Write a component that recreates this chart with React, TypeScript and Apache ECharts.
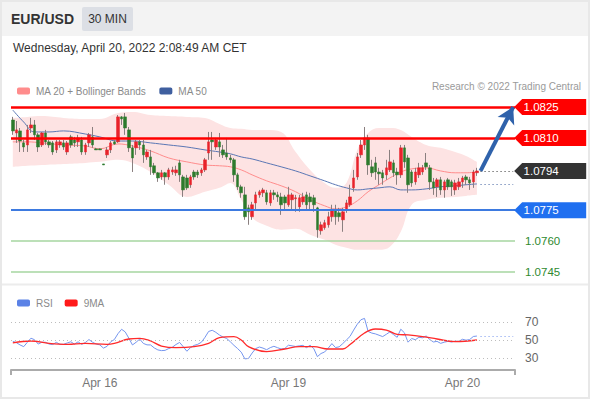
import React, { useEffect, useRef } from 'react';
import * as echarts from 'echarts';

// ---------- price candles (30 min) ----------
const candleOpen = [
  1.08187, 1.08124, 1.08134, 1.08076, 1.08066, 1.08148, 1.08163, 1.08115, 1.08066, 1.08124,
  1.08081, 1.08076, 1.08042, 1.08066, 1.08076, 1.08032, 1.08105, 1.08090, 1.08081, 1.08090,
  1.08032, 1.08076, 1.08105, 1.08047, 1.08047, 1.07974, 1.08018, 1.08042, 1.08081, 1.08081,
  1.08202, 1.08202, 1.08139, 1.08052, 1.08052, 1.08081, 1.08066, 1.08008, 1.08008, 1.07965,
  1.07931, 1.07911, 1.07931, 1.07911, 1.07935, 1.07931, 1.07979, 1.07911, 1.07906, 1.07873,
  1.07935, 1.07935, 1.07931, 1.07945, 1.08027, 1.08090, 1.08056, 1.08081, 1.08042, 1.08027,
  1.08003, 1.07994, 1.07921, 1.07863, 1.07824, 1.07761, 1.07718, 1.07785, 1.07824, 1.07834,
  1.07834, 1.07785, 1.07834, 1.07824, 1.07814, 1.07814, 1.07776, 1.07800, 1.07805, 1.07766,
  1.07790, 1.07824, 1.07814, 1.07810, 1.07761, 1.07650, 1.07665, 1.07679, 1.07718, 1.07752,
  1.07737, 1.07703, 1.07752, 1.07776, 1.07858, 1.07911, 1.08018, 1.08066, 1.08100, 1.07960,
  1.07979, 1.07935, 1.07931, 1.07921, 1.07945, 1.07979, 1.07935, 1.07921, 1.08052, 1.08003,
  1.07935, 1.07887, 1.07921, 1.07935, 1.07979, 1.07955, 1.07887, 1.07863, 1.07897, 1.07848,
  1.07897, 1.07887, 1.07848, 1.07863, 1.07887, 1.07911, 1.07897, 1.07887, 1.07931,
];
const candleClose = [
  1.08134, 1.08139, 1.08085, 1.08056, 1.08139, 1.08163, 1.08115, 1.08056, 1.08124, 1.08081,
  1.08066, 1.08032, 1.08081, 1.08081, 1.08056, 1.08076, 1.08066, 1.08076, 1.08100, 1.08032,
  1.08066, 1.08115, 1.08066, 1.08042, 1.08042, 1.07969, 1.08042, 1.08076, 1.08071, 1.08202,
  1.08192, 1.08148, 1.08052, 1.08003, 1.08081, 1.08066, 1.08018, 1.08032, 1.07960, 1.07931,
  1.07906, 1.07931, 1.07911, 1.07945, 1.07945, 1.07945, 1.07921, 1.07848, 1.07858, 1.07911,
  1.07911, 1.07921, 1.07945, 1.07994, 1.08081, 1.08081, 1.08090, 1.08056, 1.08018, 1.08008,
  1.07994, 1.07921, 1.07863, 1.07834, 1.07718, 1.07742, 1.07776, 1.07824, 1.07839, 1.07848,
  1.07790, 1.07834, 1.07824, 1.07814, 1.07776, 1.07785, 1.07824, 1.07824, 1.07810, 1.07810,
  1.07814, 1.07776, 1.07790, 1.07776, 1.07655, 1.07679, 1.07689, 1.07718, 1.07752, 1.07718,
  1.07718, 1.07742, 1.07785, 1.07814, 1.07906, 1.08008, 1.08066, 1.08100, 1.07969, 1.07931,
  1.07935, 1.07926, 1.07906, 1.07955, 1.07984, 1.07931, 1.07921, 1.08052, 1.07984, 1.07873,
  1.07882, 1.07935, 1.07955, 1.07955, 1.07960, 1.07887, 1.07858, 1.07897, 1.07848, 1.07887,
  1.07863, 1.07863, 1.07882, 1.07887, 1.07906, 1.07897, 1.07882, 1.07935, 1.07940,
];
const candleLow = [
  1.08115, 1.08076, 1.08032, 1.08032, 1.08032, 1.08124, 1.08090, 1.08032, 1.08056, 1.08066,
  1.08052, 1.08018, 1.08027, 1.08052, 1.08042, 1.08018, 1.08052, 1.08056, 1.08056, 1.08018,
  1.08018, 1.08056, 1.08052, 1.08042, 1.08042, 1.07969, 1.08003, 1.08027, 1.08066, 1.08076,
  1.08163, 1.08115, 1.08032, 1.07935, 1.08018, 1.08042, 1.07979, 1.07994, 1.07921, 1.07921,
  1.07887, 1.07897, 1.07873, 1.07897, 1.07921, 1.07916, 1.07887, 1.07814, 1.07848, 1.07858,
  1.07897, 1.07906, 1.07916, 1.07935, 1.07994, 1.07994, 1.08042, 1.08008, 1.08003, 1.07994,
  1.07979, 1.07887, 1.07848, 1.07810, 1.07703, 1.07679, 1.07703, 1.07752, 1.07810, 1.07814,
  1.07776, 1.07771, 1.07800, 1.07790, 1.07727, 1.07752, 1.07766, 1.07752, 1.07742, 1.07742,
  1.07776, 1.07752, 1.07752, 1.07742, 1.07616, 1.07631, 1.07655, 1.07665, 1.07694, 1.07679,
  1.07694, 1.07645, 1.07737, 1.07766, 1.07839, 1.07897, 1.08003, 1.08042, 1.07921, 1.07911,
  1.07897, 1.07873, 1.07873, 1.07897, 1.07935, 1.07911, 1.07873, 1.07906, 1.07955, 1.07834,
  1.07863, 1.07873, 1.07906, 1.07921, 1.07945, 1.07848, 1.07824, 1.07814, 1.07824, 1.07810,
  1.07848, 1.07819, 1.07824, 1.07848, 1.07858, 1.07873, 1.07848, 1.07858, 1.07916,
];
const candleHigh = [
  1.08202, 1.08182, 1.08148, 1.08090, 1.08163, 1.08197, 1.08187, 1.08124, 1.08129, 1.08139,
  1.08090, 1.08085, 1.08090, 1.08090, 1.08090, 1.08085, 1.08115, 1.08105, 1.08115, 1.08105,
  1.08076, 1.08124, 1.08153, 1.08052, 1.08049, 1.07974, 1.08056, 1.08085, 1.08090, 1.08211,
  1.08206, 1.08221, 1.08153, 1.08066, 1.08090, 1.08090, 1.08090, 1.08042, 1.08042, 1.07979,
  1.07935, 1.07945, 1.07935, 1.07955, 1.07960, 1.07965, 1.07994, 1.07921, 1.07921, 1.07921,
  1.07945, 1.07945, 1.07955, 1.08003, 1.08129, 1.08129, 1.08100, 1.08124, 1.08066, 1.08100,
  1.08018, 1.08003, 1.07931, 1.07873, 1.07863, 1.07776, 1.07790, 1.07839, 1.07848, 1.07858,
  1.07848, 1.07848, 1.07848, 1.07839, 1.07834, 1.07824, 1.07863, 1.07834, 1.07824, 1.07824,
  1.07834, 1.07839, 1.07834, 1.07824, 1.07766, 1.07694, 1.07703, 1.07742, 1.07776, 1.07776,
  1.07761, 1.07761, 1.07800, 1.07873, 1.07945, 1.08027, 1.08090, 1.08153, 1.08115, 1.07994,
  1.08008, 1.07955, 1.07945, 1.07994, 1.08042, 1.07994, 1.07955, 1.08066, 1.08066, 1.08018,
  1.07945, 1.07955, 1.07979, 1.07969, 1.08027, 1.07969, 1.07906, 1.07906, 1.07911, 1.07897,
  1.07906, 1.07897, 1.07897, 1.07906, 1.07916, 1.07921, 1.07911, 1.07945, 1.07955,
];

// ---------- Bollinger bands + MA20 (read at these candle indices) ----------
const bandIdx = [0, 4, 8, 14, 20, 24, 29, 33, 38, 43, 48, 53, 57, 60, 63, 66, 70, 74, 78, 82, 86, 89, 92, 95, 98, 101, 104, 107, 110, 114, 118, 122, 125, 128];
const bandUpper = [
  1.08197, 1.08202, 1.08206, 1.08197, 1.08192, 1.08192, 1.08221, 1.08226, 1.08211, 1.08206,
  1.08202, 1.08197, 1.08168, 1.08148, 1.08144, 1.08139, 1.08139, 1.08129, 1.08032, 1.07945,
  1.07882, 1.07858, 1.07882, 1.08042, 1.08124, 1.08148, 1.08148, 1.08139, 1.08105, 1.08066,
  1.08052, 1.08032, 1.08013, 1.07984,
];
const bandLower = [
  1.07960, 1.07965, 1.07969, 1.07974, 1.07979, 1.07984, 1.07994, 1.07979, 1.07935, 1.07873,
  1.07814, 1.07839, 1.07858, 1.07882, 1.07800, 1.07713, 1.07674, 1.07655, 1.07660, 1.07631,
  1.07606, 1.07582, 1.07568, 1.07558, 1.07558, 1.07558, 1.07573, 1.07645, 1.07776, 1.07800,
  1.07810, 1.07814, 1.07819, 1.07824,
];
const ma20 = [
  1.08081, 1.08081, 1.08076, 1.08066, 1.08061, 1.08047, 1.08071, 1.08061, 1.08037, 1.08003,
  1.07984, 1.07969, 1.07965, 1.07960, 1.07945, 1.07921, 1.07892, 1.07868, 1.07839, 1.07800,
  1.07771, 1.07756, 1.07766, 1.07795, 1.07839, 1.07873, 1.07906, 1.07935, 1.07950, 1.07955,
  1.07940, 1.07931, 1.07931, 1.07935,
];
const ma50Idx = [0, 3, 6, 10, 14, 20, 24, 29, 33, 38, 43, 48, 53, 57, 60, 63, 66, 70, 74, 78, 82, 86, 89, 92, 95, 98, 101, 104, 107, 110, 114, 118, 122, 125, 128];
const ma50 = [
  1.08235, 1.08177, 1.08129, 1.08129, 1.08134, 1.08119, 1.08105, 1.08085, 1.08085, 1.08076,
  1.08066, 1.08056, 1.08042, 1.08032, 1.08023, 1.08008, 1.07998, 1.07979, 1.07960, 1.07940,
  1.07916, 1.07892, 1.07873, 1.07858, 1.07848, 1.07853, 1.07858, 1.07863, 1.07848, 1.07848,
  1.07853, 1.07863, 1.07868, 1.07873, 1.07877,
];

// ---------- RSI panel ----------
const rsi = [
  48.5, 47, 44.5, 42.6, 47.4, 52, 50.3, 45.5, 47.5, 47.5,
  45.5, 45, 47.4, 45.2, 45.2, 46.7, 48, 45.5, 48, 45.2,
  47.2, 50.5, 47.5, 45.5, 44.6, 41, 43, 48, 50.5, 57,
  61.9, 59, 52, 44.5, 47.5, 51, 46.2, 44.6, 44.5, 41.2,
  39, 38.2, 38.5, 40.5, 42, 45, 47.3, 42.6, 37.5, 41.5,
  44, 45.2, 47.5, 53, 59.5, 60.8, 58.5, 55.5, 53.2, 51.7,
  48, 44, 40.5, 36.5, 29, 29.5, 35.5, 40.5, 42.2, 41,
  39.2, 41.5, 43, 41.5, 40, 40.5, 44.2, 43.5, 42.8, 43.5,
  44, 41.5, 44.2, 40.5, 31.5, 35, 36.7, 41, 46, 41.6,
  42.4, 46, 50, 54, 61, 67.5, 72.5, 74, 59.5, 57.7,
  56.8, 55.3, 53.8, 56.3, 59, 56, 53, 62, 58, 47.6,
  51.7, 50.3, 53, 52.5, 54.5, 50.5, 47.8, 48.5, 46.3, 47.6,
  48.5, 47.8, 48.7, 48.5, 50.8, 49.8, 50.5, 53.9, 54.4,
];
const rsi9Idx = [0, 5, 10, 15, 20, 26, 28, 32, 35, 38, 41, 45, 50, 54, 57, 61, 63, 65, 70, 75, 79, 83, 87, 91, 93, 97, 100, 103, 106, 109, 113, 117, 122, 128];
const rsi9 = [46.7, 48.9, 46.3, 45.2, 46.3, 45.2, 46.3, 51.1, 51.9, 48.9, 43.3, 41.5, 42.6, 46.3, 52.6, 53.7, 50, 42.6, 37, 40, 42.6, 42.6, 40, 40, 45, 57.8, 62.2, 61.1, 56.3, 55.6, 53.7, 51.1, 48.1, 50];
const rsiLevels = [70, 50, 30];

// ---------- levels & labels ----------
const resistance = [1.0825, 1.0810];
const pivot = 1.0775;
const supports = [1.0760, 1.0745];
const lastPrice = 1.0794;
const target = 1.0825;
const dateLabels = ['Apr 16', 'Apr 19', 'Apr 20'];
const dateLabelIdx = [24, 76, 124];
const totalSlots = 139;

const FONT = 'Arial, "Liberation Sans", Helvetica, sans-serif';

export default function App() {
  const ref = useRef<HTMLDivElement>(null);

  useEffect(() => {
    if (!ref.current) return;
    const chart = echarts.init(ref.current, undefined, { renderer: 'svg' });

    const categories = Array.from({ length: totalSlots }, (_, i) => 't' + i);
    const n = candleOpen.length;
    const last = n - 1;
    const endIdx = totalSlots - 1;
    const candles = candleOpen.map((o, i) => [o, candleClose[i], candleLow[i], candleHigh[i]]);
    // bodies only (same open/close, wick trimmed to the body) drawn over the gray wicks
    const bodies = candleOpen.map((o, i) => [o, candleClose[i], Math.min(o, candleClose[i]), Math.max(o, candleClose[i])]);
    const ma50Last = ma50[ma50.length - 1];

    const tagPath = 'path://M0,8L8,0L72,0L72,16L8,16Z';
    const tag = (v: number, color: string) => ({
      coord: [endIdx, v],
      value: v.toFixed(4),
      itemStyle: { color },
    });

    const option: any = {
      animation: false,
      textStyle: { fontFamily: FONT },
      grid: [
        { left: 11, width: 504, top: 96.67, height: 185.67 },
        { left: 11, width: 504, top: 295, height: 75 },
      ],
      legend: [
        {
          left: 12, top: 81, itemWidth: 13, itemHeight: 7, itemGap: 13, icon: 'roundRect',
          selectedMode: false,
          textStyle: { color: '#8a8a8a', fontSize: 10, fontFamily: FONT, padding: [0, 0, 0, 1] },
          data: ['MA 20 + Bollinger Bands', 'MA 50'],
        },
        {
          left: 12, top: 293, itemWidth: 13, itemHeight: 7, itemGap: 12, icon: 'roundRect',
          selectedMode: false,
          textStyle: { color: '#8a8a8a', fontSize: 10, fontFamily: FONT, padding: [0, 0, 0, 1] },
          data: ['RSI', '9MA'],
        },
      ],
      xAxis: [
        { type: 'category', gridIndex: 0, data: categories, show: false, boundaryGap: true },
        {
          type: 'category', gridIndex: 1, data: categories, boundaryGap: true,
          axisLine: { show: true, lineStyle: { color: '#ababab', width: 2 } },
          axisTick: { show: true, length: 5, interval: (i: number) => i === 0, lineStyle: { color: '#ababab', width: 2 } },
          axisLabel: {
            interval: (i: number) => dateLabelIdx.includes(i),
            formatter: (v: string) => {
              const k = dateLabelIdx.indexOf(Number(v.slice(1)));
              return k >= 0 ? dateLabels[k] : '';
            },
            color: '#777', fontSize: 12, margin: 7, fontFamily: FONT,
          },
          splitLine: { show: false },
        },
      ],
      yAxis: [
        { type: 'value', gridIndex: 0, min: 1.074, max: 1.083, show: false, scale: true },
        { type: 'value', gridIndex: 1, min: 30 - 40 / 3, max: 100, show: false },
      ],
      graphic: [
        { type: 'rect', z: -10, shape: { x: 0, y: 0, width: 590, height: 36 }, style: { fill: '#f3f3f3' } },
        { type: 'rect', z: -9, shape: { x: 82, y: 7, width: 51, height: 24, r: 2 }, style: { fill: '#dcdfe5' } },
        { type: 'text', x: 11, y: 19, style: { text: 'EUR/USD', font: `bold 14px ${FONT}`, fill: '#333', verticalAlign: 'middle' } },
        { type: 'text', x: 107.5, y: 19, style: { text: '30 MIN', font: `12px ${FONT}`, fill: '#333', align: 'center', verticalAlign: 'middle' } },
        { type: 'text', x: 13, y: 48, style: { text: 'Wednesday, April 20, 2022 2:08:49 AM CET', font: `12px ${FONT}`, fill: '#333', verticalAlign: 'middle' } },
        { type: 'text', x: 581, y: 86, style: { text: 'Research © 2022 Trading Central', font: `10px ${FONT}`, fill: '#9a9a9a', align: 'right', verticalAlign: 'middle' } },
        { type: 'line', z: -5, shape: { x1: 0, y1: 284.5, x2: 590, y2: 284.5 }, style: { stroke: '#ececec', lineWidth: 2 } },
        { type: 'line', z: 5, shape: { x1: 515, y1: 370, x2: 515, y2: 375 }, style: { stroke: '#ababab', lineWidth: 2 } },
        { type: 'rect', z: -5, shape: { x: 1, y: 1, width: 588, height: 397 }, style: { fill: 'none', stroke: '#e8e8e8', lineWidth: 2 } },
      ],
      series: [
        {
          name: 'bandBase', type: 'line', xAxisIndex: 0, yAxisIndex: 0, stack: 'band', smooth: 0.4,
          symbol: 'none', silent: true, z: 1,
          lineStyle: { opacity: 0 },
          data: bandIdx.map((x, k) => [x, bandLower[k]]),
        },
        {
          name: 'bandFill', type: 'line', xAxisIndex: 0, yAxisIndex: 0, stack: 'band', smooth: 0.4,
          symbol: 'none', silent: true, z: 1,
          lineStyle: { opacity: 0 },
          areaStyle: { color: '#fde3e3', opacity: 1 },
          data: bandIdx.map((x, k) => [x, bandUpper[k] - bandLower[k]]),
        },
        {
          name: 'MA 20 + Bollinger Bands', type: 'line', xAxisIndex: 0, yAxisIndex: 0, smooth: 0.4,
          symbol: 'none', z: 2, color: '#ff8c8c',
          lineStyle: { width: 1, color: '#ff8c8c' },
          data: bandIdx.map((x, k) => [x, ma20[k]]),
        },
        {
          name: 'MA 50', type: 'line', xAxisIndex: 0, yAxisIndex: 0, smooth: 0.4,
          symbol: 'none', z: 2, color: '#3f5f9f',
          lineStyle: { width: 1, color: '#5a76b4' },
          data: ma50Idx.map((x, k) => [x, ma50[k]]),
          markLine: {
            silent: true, symbol: ['none', 'none'], animation: false, precision: 5,
            label: { show: false },
            data: [
              ...resistance.map((v) => ({ yAxis: v, lineStyle: { color: '#ff0000', width: 2.5, type: 'solid' } })),
              { yAxis: pivot, lineStyle: { color: '#3d7ae0', width: 2, type: 'solid' } },
              ...supports.map((v) => ({
                yAxis: v, lineStyle: { color: '#a6d6a0', width: 1.5, type: 'solid' },
                label: { show: true, position: 'end', distance: 10, formatter: v.toFixed(4), color: '#2f8a2f', fontSize: 11.5, fontFamily: FONT },
              })),
            ],
          },
        },
        {
          name: 'wicks', type: 'candlestick', xAxisIndex: 0, yAxisIndex: 0, z: 3,
          barWidth: 1, silent: true,
          itemStyle: { color: '#8a7f7f', color0: '#8a7f7f', borderColor: '#8a7f7f', borderColor0: '#8a7f7f', borderWidth: 1 },
          data: candles,
        },
        {
          name: 'EURUSD', type: 'candlestick', xAxisIndex: 0, yAxisIndex: 0, z: 4,
          barWidth: 3,
          itemStyle: {
            color: '#e8222a', color0: '#2c7a2c',
            borderColor: '#e8222a', borderColor0: '#2c7a2c', borderWidth: 0.5,
          },
          data: bodies,
          markLine: {
            silent: true, symbol: ['none', 'none'], animation: false, precision: 5,
            label: { show: false },
            data: [
              [
                { coord: [last + 1, lastPrice], lineStyle: { color: '#333', width: 1, type: [1, 3] } },
                { coord: [endIdx, lastPrice] },
              ],
              [
                { coord: [last + 1, ma50Last], lineStyle: { color: '#3f5f9f', width: 1, type: [1, 3] } },
                { coord: [endIdx, ma50Last] },
              ],
              [
                { coord: [last + 1, lastPrice], symbol: 'none', lineStyle: { color: '#2f62ab', width: 4, type: 'solid' } },
                { coord: [endIdx, target], symbol: 'arrow', symbolSize: [14, 16] },
              ],
            ],
          },
          markPoint: {
            silent: true,
            symbol: tagPath,
            symbolSize: [72, 16],
            symbolOffset: [37, 0],
            label: {
              show: true, position: 'inside', offset: [-9, 0], color: '#fff', fontSize: 11.5, fontFamily: FONT,
              formatter: (p: any) => p.value,
            },
            data: [
              ...resistance.map((v) => tag(v, '#ff0000')),
              tag(lastPrice, '#333333'),
              tag(pivot, '#1f6ff0'),
            ],
          },
        },
        {
          name: 'RSI', type: 'line', xAxisIndex: 1, yAxisIndex: 1, symbol: 'none', z: 2,
          color: '#5b82e6',
          lineStyle: { width: 1, color: '#7595ee' },
          data: rsi,
          markLine: {
            silent: true, symbol: ['none', 'none'], precision: 2,
            data: [
              ...rsiLevels.map((v) => ({
                yAxis: v, lineStyle: { color: '#bdbdbd', width: 1, type: [1, 3] },
                label: { show: true, position: 'end', distance: 10, formatter: String(v), color: '#666', fontSize: 12, fontFamily: FONT },
              })),
              [
                { coord: [last + 1, rsi[last]], lineStyle: { color: '#7595ee', width: 1, type: [1, 3] }, label: { show: false } },
                { coord: [endIdx, rsi[last]] },
              ],
            ],
          },
        },
        {
          name: '9MA', type: 'line', xAxisIndex: 1, yAxisIndex: 1, symbol: 'none', smooth: 0.4, z: 3,
          color: '#ff1a1a',
          lineStyle: { width: 1.3, color: '#ff2a2a' },
          data: rsi9Idx.map((x, k) => [x, rsi9[k]]),
        },
      ],
    };

    chart.setOption(option);
    return () => chart.dispose();
  }, []);

  return (
    <div style={{ position: 'fixed', left: 0, top: 0, width: 590, height: 400, background: '#fff' }}>
      <div ref={ref} style={{ width: 590, height: 400 }} />
    </div>
  );
}
